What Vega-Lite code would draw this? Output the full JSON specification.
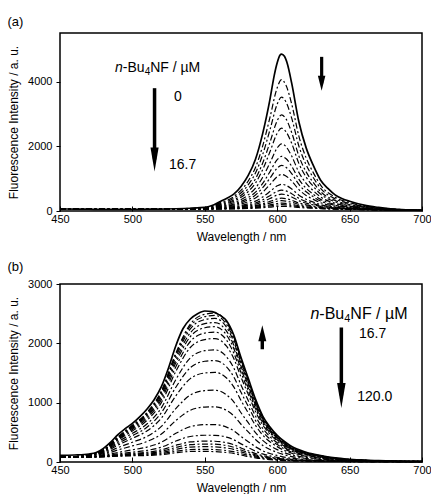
{
"$schema": "https://vega.github.io/schema/vega-lite/v6.json",
"padding": {"left": 6, "top": 15, "right": 0, "bottom": 0},
"background": "white",
"spacing": 17,
"datasets": {
"a": [
{"c":0,"x":450,"y":65},{"c":0,"x":460,"y":60},{"c":0,"x":470,"y":55},{"c":0,"x":480,"y":50},{"c":0,"x":490,"y":50},{"c":0,"x":500,"y":50},{"c":0,"x":510,"y":55},{"c":0,"x":520,"y":60},{"c":0,"x":530,"y":70},{"c":0,"x":540,"y":85},{"c":0,"x":550,"y":110},{"c":0,"x":555,"y":170},{"c":0,"x":560,"y":280},{"c":0,"x":565,"y":390},{"c":0,"x":570,"y":520},{"c":0,"x":575,"y":760},{"c":0,"x":580,"y":1100},{"c":0,"x":585,"y":1600},{"c":0,"x":590,"y":2400},{"c":0,"x":595,"y":3450},{"c":0,"x":598,"y":4200},{"c":0,"x":600,"y":4580},{"c":0,"x":602,"y":4820},{"c":0,"x":603,"y":4850},{"c":0,"x":605,"y":4780},{"c":0,"x":607,"y":4550},{"c":0,"x":610,"y":3950},{"c":0,"x":615,"y":2750},{"c":0,"x":620,"y":1950},{"c":0,"x":625,"y":1400},{"c":0,"x":630,"y":950},{"c":0,"x":635,"y":700},{"c":0,"x":640,"y":500},{"c":0,"x":645,"y":380},{"c":0,"x":650,"y":300},{"c":0,"x":660,"y":180},{"c":0,"x":670,"y":110},{"c":0,"x":680,"y":60},{"c":0,"x":690,"y":35},{"c":0,"x":700,"y":20},
{"c":1,"x":450,"y":50},{"c":1,"x":500,"y":50},{"c":1,"x":540,"y":81},{"c":1,"x":550,"y":102},{"c":1,"x":560,"y":244},{"c":1,"x":570,"y":444},{"c":1,"x":580,"y":928},{"c":1,"x":585,"y":1346},{"c":1,"x":590,"y":2014},{"c":1,"x":595,"y":2891},{"c":1,"x":600,"y":3809},{"c":1,"x":603,"y":4060},{"c":1,"x":606,"y":3893},{"c":1,"x":610,"y":3308},{"c":1,"x":615,"y":2306},{"c":1,"x":620,"y":1638},{"c":1,"x":625,"y":1179},{"c":1,"x":630,"y":802},{"c":1,"x":640,"y":426},{"c":1,"x":650,"y":258},{"c":1,"x":660,"y":157},{"c":1,"x":675,"y":80},{"c":1,"x":700,"y":19},
{"c":2,"x":450,"y":50},{"c":2,"x":500,"y":50},{"c":2,"x":540,"y":78},{"c":2,"x":550,"y":96},{"c":2,"x":560,"y":219},{"c":2,"x":570,"y":392},{"c":2,"x":580,"y":811},{"c":2,"x":585,"y":1172},{"c":2,"x":590,"y":1749},{"c":2,"x":595,"y":2508},{"c":2,"x":600,"y":3302},{"c":2,"x":603,"y":3518},{"c":2,"x":606,"y":3374},{"c":2,"x":610,"y":2869},{"c":2,"x":615,"y":2002},{"c":2,"x":620,"y":1425},{"c":2,"x":625,"y":1027},{"c":2,"x":630,"y":701},{"c":2,"x":640,"y":375},{"c":2,"x":650,"y":229},{"c":2,"x":660,"y":141},{"c":2,"x":675,"y":73},{"c":2,"x":700,"y":19},
{"c":3,"x":450,"y":50},{"c":3,"x":500,"y":50},{"c":3,"x":540,"y":75},{"c":3,"x":550,"y":90},{"c":3,"x":560,"y":194},{"c":3,"x":570,"y":340},{"c":3,"x":580,"y":692},{"c":3,"x":585,"y":996},{"c":3,"x":590,"y":1483},{"c":3,"x":595,"y":2121},{"c":3,"x":600,"y":2790},{"c":3,"x":603,"y":2972},{"c":3,"x":606,"y":2851},{"c":3,"x":610,"y":2425},{"c":3,"x":615,"y":1696},{"c":3,"x":620,"y":1209},{"c":3,"x":625,"y":875},{"c":3,"x":630,"y":599},{"c":3,"x":640,"y":324},{"c":3,"x":650,"y":200},{"c":3,"x":660,"y":125},{"c":3,"x":675,"y":66},{"c":3,"x":700,"y":18},
{"c":4,"x":450,"y":50},{"c":4,"x":500,"y":50},{"c":4,"x":540,"y":73},{"c":4,"x":550,"y":86},{"c":4,"x":560,"y":175},{"c":4,"x":570,"y":300},{"c":4,"x":580,"y":603},{"c":4,"x":585,"y":864},{"c":4,"x":590,"y":1281},{"c":4,"x":595,"y":1830},{"c":4,"x":600,"y":2404},{"c":4,"x":603,"y":2560},{"c":4,"x":606,"y":2456},{"c":4,"x":610,"y":2091},{"c":4,"x":615,"y":1464},{"c":4,"x":620,"y":1047},{"c":4,"x":625,"y":759},{"c":4,"x":630,"y":522},{"c":4,"x":640,"y":285},{"c":4,"x":650,"y":178},{"c":4,"x":660,"y":113},{"c":4,"x":675,"y":61},{"c":4,"x":700,"y":18},
{"c":5,"x":450,"y":50},{"c":5,"x":500,"y":50},{"c":5,"x":540,"y":71},{"c":5,"x":550,"y":81},{"c":5,"x":560,"y":153},{"c":5,"x":570,"y":254},{"c":5,"x":580,"y":498},{"c":5,"x":585,"y":708},{"c":5,"x":590,"y":1045},{"c":5,"x":595,"y":1487},{"c":5,"x":600,"y":1950},{"c":5,"x":603,"y":2077},{"c":5,"x":606,"y":1992},{"c":5,"x":610,"y":1698},{"c":5,"x":615,"y":1192},{"c":5,"x":620,"y":856},{"c":5,"x":625,"y":624},{"c":5,"x":630,"y":432},{"c":5,"x":640,"y":239},{"c":5,"x":650,"y":152},{"c":5,"x":660,"y":99},{"c":5,"x":675,"y":55},{"c":5,"x":700,"y":17},
{"c":6,"x":450,"y":50},{"c":6,"x":500,"y":50},{"c":6,"x":540,"y":68},{"c":6,"x":550,"y":77},{"c":6,"x":560,"y":135},{"c":6,"x":570,"y":216},{"c":6,"x":580,"y":414},{"c":6,"x":585,"y":584},{"c":6,"x":590,"y":856},{"c":6,"x":595,"y":1213},{"c":6,"x":600,"y":1587},{"c":6,"x":603,"y":1689},{"c":6,"x":606,"y":1621},{"c":6,"x":610,"y":1383},{"c":6,"x":615,"y":975},{"c":6,"x":620,"y":703},{"c":6,"x":625,"y":516},{"c":6,"x":630,"y":359},{"c":6,"x":640,"y":203},{"c":6,"x":650,"y":132},{"c":6,"x":660,"y":88},{"c":6,"x":675,"y":50},{"c":6,"x":700,"y":17},
{"c":7,"x":450,"y":50},{"c":7,"x":500,"y":50},{"c":7,"x":540,"y":67},{"c":7,"x":550,"y":74},{"c":7,"x":560,"y":122},{"c":7,"x":570,"y":190},{"c":7,"x":580,"y":353},{"c":7,"x":585,"y":494},{"c":7,"x":590,"y":720},{"c":7,"x":595,"y":1016},{"c":7,"x":600,"y":1326},{"c":7,"x":603,"y":1411},{"c":7,"x":606,"y":1354},{"c":7,"x":610,"y":1157},{"c":7,"x":615,"y":819},{"c":7,"x":620,"y":593},{"c":7,"x":625,"y":438},{"c":7,"x":630,"y":307},{"c":7,"x":640,"y":177},{"c":7,"x":650,"y":117},{"c":7,"x":660,"y":79},{"c":7,"x":675,"y":47},{"c":7,"x":700,"y":16},
{"c":8,"x":450,"y":50},{"c":8,"x":500,"y":50},{"c":8,"x":540,"y":66},{"c":8,"x":550,"y":71},{"c":8,"x":560,"y":109},{"c":8,"x":570,"y":163},{"c":8,"x":580,"y":292},{"c":8,"x":585,"y":403},{"c":8,"x":590,"y":582},{"c":8,"x":595,"y":816},{"c":8,"x":600,"y":1061},{"c":8,"x":603,"y":1128},{"c":8,"x":606,"y":1084},{"c":8,"x":610,"y":927},{"c":8,"x":615,"y":660},{"c":8,"x":620,"y":481},{"c":8,"x":625,"y":359},{"c":8,"x":630,"y":255},{"c":8,"x":640,"y":150},{"c":8,"x":650,"y":102},{"c":8,"x":660,"y":71},{"c":8,"x":675,"y":43},{"c":8,"x":700,"y":16},
{"c":9,"x":450,"y":50},{"c":9,"x":500,"y":50},{"c":9,"x":540,"y":64},{"c":9,"x":550,"y":68},{"c":9,"x":560,"y":95},{"c":9,"x":570,"y":134},{"c":9,"x":580,"y":226},{"c":9,"x":585,"y":306},{"c":9,"x":590,"y":434},{"c":9,"x":595,"y":602},{"c":9,"x":600,"y":778},{"c":9,"x":603,"y":826},{"c":9,"x":606,"y":794},{"c":9,"x":610,"y":682},{"c":9,"x":615,"y":490},{"c":9,"x":620,"y":362},{"c":9,"x":625,"y":274},{"c":9,"x":630,"y":198},{"c":9,"x":640,"y":122},{"c":9,"x":650,"y":86},{"c":9,"x":660,"y":62},{"c":9,"x":675,"y":40},{"c":9,"x":700,"y":16},
{"c":10,"x":450,"y":50},{"c":10,"x":500,"y":50},{"c":10,"x":540,"y":63},{"c":10,"x":550,"y":66},{"c":10,"x":560,"y":87},{"c":10,"x":570,"y":116},{"c":10,"x":580,"y":187},{"c":10,"x":585,"y":248},{"c":10,"x":590,"y":345},{"c":10,"x":595,"y":474},{"c":10,"x":600,"y":608},{"c":10,"x":603,"y":644},{"c":10,"x":606,"y":620},{"c":10,"x":610,"y":535},{"c":10,"x":615,"y":388},{"c":10,"x":620,"y":291},{"c":10,"x":625,"y":223},{"c":10,"x":630,"y":164},{"c":10,"x":640,"y":105},{"c":10,"x":650,"y":76},{"c":10,"x":660,"y":57},{"c":10,"x":675,"y":37},{"c":10,"x":700,"y":15},
{"c":11,"x":450,"y":50},{"c":11,"x":500,"y":50},{"c":11,"x":540,"y":62},{"c":11,"x":550,"y":65},{"c":11,"x":560,"y":81},{"c":11,"x":570,"y":104},{"c":11,"x":580,"y":160},{"c":11,"x":585,"y":208},{"c":11,"x":590,"y":285},{"c":11,"x":595,"y":385},{"c":11,"x":600,"y":491},{"c":11,"x":603,"y":520},{"c":11,"x":606,"y":501},{"c":11,"x":610,"y":433},{"c":11,"x":615,"y":318},{"c":11,"x":620,"y":241},{"c":11,"x":625,"y":189},{"c":11,"x":630,"y":141},{"c":11,"x":640,"y":93},{"c":11,"x":650,"y":69},{"c":11,"x":660,"y":53},{"c":11,"x":675,"y":36},{"c":11,"x":700,"y":15},
{"c":12,"x":450,"y":50},{"c":12,"x":500,"y":50},{"c":12,"x":540,"y":62},{"c":12,"x":550,"y":64},{"c":12,"x":560,"y":75},{"c":12,"x":570,"y":92},{"c":12,"x":580,"y":133},{"c":12,"x":585,"y":168},{"c":12,"x":590,"y":224},{"c":12,"x":595,"y":297},{"c":12,"x":600,"y":374},{"c":12,"x":603,"y":395},{"c":12,"x":606,"y":381},{"c":12,"x":610,"y":332},{"c":12,"x":615,"y":248},{"c":12,"x":620,"y":192},{"c":12,"x":625,"y":154},{"c":12,"x":630,"y":118},{"c":12,"x":640,"y":82},{"c":12,"x":650,"y":63},{"c":12,"x":660,"y":50},{"c":12,"x":675,"y":34},{"c":12,"x":700,"y":15},
{"c":13,"x":450,"y":50},{"c":13,"x":500,"y":50},{"c":13,"x":540,"y":61},{"c":13,"x":550,"y":63},{"c":13,"x":560,"y":72},{"c":13,"x":570,"y":85},{"c":13,"x":580,"y":116},{"c":13,"x":585,"y":143},{"c":13,"x":590,"y":186},{"c":13,"x":595,"y":243},{"c":13,"x":600,"y":302},{"c":13,"x":603,"y":319},{"c":13,"x":606,"y":308},{"c":13,"x":610,"y":270},{"c":13,"x":615,"y":205},{"c":13,"x":620,"y":162},{"c":13,"x":625,"y":132},{"c":13,"x":630,"y":103},{"c":13,"x":640,"y":74},{"c":13,"x":650,"y":59},{"c":13,"x":660,"y":48},{"c":13,"x":675,"y":33},{"c":13,"x":700,"y":15},
{"c":14,"x":450,"y":50},{"c":14,"x":500,"y":50},{"c":14,"x":540,"y":61},{"c":14,"x":550,"y":62},{"c":14,"x":560,"y":68},{"c":14,"x":570,"y":77},{"c":14,"x":580,"y":100},{"c":14,"x":585,"y":119},{"c":14,"x":590,"y":149},{"c":14,"x":595,"y":189},{"c":14,"x":600,"y":231},{"c":14,"x":603,"y":242},{"c":14,"x":606,"y":234},{"c":14,"x":610,"y":208},{"c":14,"x":615,"y":162},{"c":14,"x":620,"y":132},{"c":14,"x":625,"y":111},{"c":14,"x":630,"y":89},{"c":14,"x":640,"y":67},{"c":14,"x":650,"y":55},{"c":14,"x":660,"y":45},{"c":14,"x":675,"y":32},{"c":14,"x":700,"y":15},
{"c":15,"x":450,"y":50},{"c":15,"x":500,"y":50},{"c":15,"x":540,"y":61},{"c":15,"x":550,"y":61},{"c":15,"x":560,"y":66},{"c":15,"x":570,"y":73},{"c":15,"x":580,"y":89},{"c":15,"x":585,"y":103},{"c":15,"x":590,"y":126},{"c":15,"x":595,"y":155},{"c":15,"x":600,"y":186},{"c":15,"x":603,"y":194},{"c":15,"x":606,"y":189},{"c":15,"x":610,"y":169},{"c":15,"x":615,"y":135},{"c":15,"x":620,"y":113},{"c":15,"x":625,"y":98},{"c":15,"x":630,"y":80},{"c":15,"x":640,"y":63},{"c":15,"x":650,"y":52},{"c":15,"x":660,"y":44},{"c":15,"x":675,"y":32},{"c":15,"x":700,"y":15},
{"c":16,"x":450,"y":50},{"c":16,"x":500,"y":50},{"c":16,"x":540,"y":60},{"c":16,"x":550,"y":61},{"c":16,"x":560,"y":64},{"c":16,"x":570,"y":68},{"c":16,"x":580,"y":79},{"c":16,"x":585,"y":88},{"c":16,"x":590,"y":102},{"c":16,"x":595,"y":121},{"c":16,"x":600,"y":141},{"c":16,"x":603,"y":146},{"c":16,"x":606,"y":143},{"c":16,"x":610,"y":130},{"c":16,"x":615,"y":108},{"c":16,"x":620,"y":94},{"c":16,"x":625,"y":84},{"c":16,"x":630,"y":71},{"c":16,"x":640,"y":58},{"c":16,"x":650,"y":50},{"c":16,"x":660,"y":43},{"c":16,"x":675,"y":31},{"c":16,"x":700,"y":15}
],
"b": [
{"c":0,"x":450,"y":110},{"c":0,"x":460,"y":118},{"c":0,"x":470,"y":135},{"c":0,"x":475,"y":160},{"c":0,"x":480,"y":230},{"c":0,"x":485,"y":335},{"c":0,"x":490,"y":460},{"c":0,"x":495,"y":560},{"c":0,"x":500,"y":650},{"c":0,"x":505,"y":760},{"c":0,"x":510,"y":890},{"c":0,"x":515,"y":1050},{"c":0,"x":520,"y":1270},{"c":0,"x":525,"y":1590},{"c":0,"x":530,"y":1960},{"c":0,"x":535,"y":2250},{"c":0,"x":540,"y":2410},{"c":0,"x":545,"y":2500},{"c":0,"x":550,"y":2545},{"c":0,"x":555,"y":2535},{"c":0,"x":560,"y":2480},{"c":0,"x":565,"y":2380},{"c":0,"x":570,"y":2140},{"c":0,"x":575,"y":1760},{"c":0,"x":580,"y":1410},{"c":0,"x":585,"y":1060},{"c":0,"x":590,"y":775},{"c":0,"x":595,"y":590},{"c":0,"x":600,"y":450},{"c":0,"x":605,"y":345},{"c":0,"x":610,"y":260},{"c":0,"x":620,"y":165},{"c":0,"x":630,"y":110},{"c":0,"x":640,"y":68},{"c":0,"x":650,"y":45},{"c":0,"x":660,"y":30},{"c":0,"x":670,"y":22},{"c":0,"x":680,"y":15},{"c":0,"x":700,"y":10},
{"c":1,"x":450,"y":80},{"c":1,"x":470,"y":117},{"c":1,"x":480,"y":205},{"c":1,"x":490,"y":424},{"c":1,"x":500,"y":619},{"c":1,"x":510,"y":833},{"c":1,"x":520,"y":1198},{"c":1,"x":530,"y":1836},{"c":1,"x":540,"y":2325},{"c":1,"x":550,"y":2490},{"c":1,"x":557,"y":2510},{"c":1,"x":565,"y":2355},{"c":1,"x":570,"y":2106},{"c":1,"x":575,"y":1727},{"c":1,"x":580,"y":1377},{"c":1,"x":585,"y":1028},{"c":1,"x":590,"y":754},{"c":1,"x":595,"y":566},{"c":1,"x":600,"y":429},{"c":1,"x":610,"y":242},{"c":1,"x":620,"y":155},{"c":1,"x":630,"y":105},{"c":1,"x":640,"y":65},{"c":1,"x":650,"y":42},{"c":1,"x":670,"y":20},{"c":1,"x":700,"y":10},
{"c":2,"x":450,"y":80},{"c":2,"x":470,"y":117},{"c":2,"x":480,"y":203},{"c":2,"x":490,"y":419},{"c":2,"x":500,"y":610},{"c":2,"x":510,"y":821},{"c":2,"x":520,"y":1179},{"c":2,"x":530,"y":1808},{"c":2,"x":540,"y":2289},{"c":2,"x":550,"y":2450},{"c":2,"x":557,"y":2470},{"c":2,"x":565,"y":2318},{"c":2,"x":570,"y":2072},{"c":2,"x":575,"y":1699},{"c":2,"x":580,"y":1355},{"c":2,"x":585,"y":1012},{"c":2,"x":590,"y":742},{"c":2,"x":595,"y":557},{"c":2,"x":600,"y":422},{"c":2,"x":610,"y":238},{"c":2,"x":620,"y":152},{"c":2,"x":630,"y":103},{"c":2,"x":640,"y":64},{"c":2,"x":650,"y":42},{"c":2,"x":670,"y":20},{"c":2,"x":700,"y":10},
{"c":3,"x":450,"y":80},{"c":3,"x":470,"y":116},{"c":3,"x":480,"y":200},{"c":3,"x":490,"y":412},{"c":3,"x":500,"y":599},{"c":3,"x":510,"y":806},{"c":3,"x":520,"y":1156},{"c":3,"x":530,"y":1772},{"c":3,"x":540,"y":2243},{"c":3,"x":550,"y":2401},{"c":3,"x":557,"y":2420},{"c":3,"x":565,"y":2271},{"c":3,"x":570,"y":2030},{"c":3,"x":575,"y":1664},{"c":3,"x":580,"y":1328},{"c":3,"x":585,"y":991},{"c":3,"x":590,"y":727},{"c":3,"x":595,"y":546},{"c":3,"x":600,"y":414},{"c":3,"x":610,"y":233},{"c":3,"x":620,"y":149},{"c":3,"x":630,"y":101},{"c":3,"x":640,"y":63},{"c":3,"x":650,"y":41},{"c":3,"x":670,"y":19},{"c":3,"x":700,"y":10},
{"c":4,"x":450,"y":80},{"c":4,"x":470,"y":115},{"c":4,"x":480,"y":197},{"c":4,"x":490,"y":402},{"c":4,"x":500,"y":584},{"c":4,"x":510,"y":784},{"c":4,"x":520,"y":1124},{"c":4,"x":530,"y":1721},{"c":4,"x":540,"y":2178},{"c":4,"x":550,"y":2332},{"c":4,"x":557,"y":2350},{"c":4,"x":565,"y":2205},{"c":4,"x":570,"y":1971},{"c":4,"x":575,"y":1616},{"c":4,"x":580,"y":1289},{"c":4,"x":585,"y":962},{"c":4,"x":590,"y":706},{"c":4,"x":595,"y":530},{"c":4,"x":600,"y":402},{"c":4,"x":610,"y":227},{"c":4,"x":620,"y":145},{"c":4,"x":630,"y":98},{"c":4,"x":640,"y":61},{"c":4,"x":650,"y":40},{"c":4,"x":670,"y":19},{"c":4,"x":700,"y":10},
{"c":5,"x":450,"y":80},{"c":5,"x":470,"y":114},{"c":5,"x":480,"y":193},{"c":5,"x":490,"y":392},{"c":5,"x":500,"y":568},{"c":5,"x":510,"y":762},{"c":5,"x":520,"y":1092},{"c":5,"x":530,"y":1671},{"c":5,"x":540,"y":2114},{"c":5,"x":550,"y":2262},{"c":5,"x":557,"y":2280},{"c":5,"x":565,"y":2139},{"c":5,"x":570,"y":1913},{"c":5,"x":575,"y":1568},{"c":5,"x":580,"y":1251},{"c":5,"x":585,"y":934},{"c":5,"x":590,"y":685},{"c":5,"x":595,"y":515},{"c":5,"x":600,"y":390},{"c":5,"x":610,"y":220},{"c":5,"x":620,"y":141},{"c":5,"x":630,"y":96},{"c":5,"x":640,"y":59},{"c":5,"x":650,"y":39},{"c":5,"x":670,"y":19},{"c":5,"x":700,"y":10},
{"c":6,"x":450,"y":80},{"c":6,"x":470,"y":113},{"c":6,"x":480,"y":189},{"c":6,"x":490,"y":380},{"c":6,"x":500,"y":549},{"c":6,"x":510,"y":734},{"c":6,"x":520,"y":1051},{"c":6,"x":530,"y":1606},{"c":6,"x":540,"y":2031},{"c":6,"x":550,"y":2173},{"c":6,"x":557,"y":2190},{"c":6,"x":565,"y":2055},{"c":6,"x":570,"y":1837},{"c":6,"x":575,"y":1506},{"c":6,"x":580,"y":1201},{"c":6,"x":585,"y":897},{"c":6,"x":590,"y":658},{"c":6,"x":595,"y":494},{"c":6,"x":600,"y":375},{"c":6,"x":610,"y":212},{"c":6,"x":620,"y":136},{"c":6,"x":630,"y":92},{"c":6,"x":640,"y":57},{"c":6,"x":650,"y":38},{"c":6,"x":670,"y":18},{"c":6,"x":700,"y":9},
{"c":7,"x":450,"y":80},{"c":7,"x":470,"y":111},{"c":7,"x":480,"y":183},{"c":7,"x":490,"y":364},{"c":7,"x":500,"y":524},{"c":7,"x":510,"y":700},{"c":7,"x":520,"y":1000},{"c":7,"x":530,"y":1527},{"c":7,"x":540,"y":1930},{"c":7,"x":550,"y":2064},{"c":7,"x":557,"y":2080},{"c":7,"x":565,"y":1951},{"c":7,"x":570,"y":1745},{"c":7,"x":575,"y":1430},{"c":7,"x":580,"y":1141},{"c":7,"x":585,"y":852},{"c":7,"x":590,"y":625},{"c":7,"x":595,"y":470},{"c":7,"x":600,"y":356},{"c":7,"x":610,"y":201},{"c":7,"x":620,"y":129},{"c":7,"x":630,"y":88},{"c":7,"x":640,"y":55},{"c":7,"x":650,"y":36},{"c":7,"x":670,"y":17},{"c":7,"x":700,"y":9},
{"c":8,"x":450,"y":80},{"c":8,"x":470,"y":108},{"c":8,"x":480,"y":174},{"c":8,"x":490,"y":338},{"c":8,"x":500,"y":483},{"c":8,"x":510,"y":641},{"c":8,"x":520,"y":913},{"c":8,"x":530,"y":1390},{"c":8,"x":540,"y":1755},{"c":8,"x":550,"y":1876},{"c":8,"x":557,"y":1890},{"c":8,"x":565,"y":1773},{"c":8,"x":570,"y":1585},{"c":8,"x":575,"y":1299},{"c":8,"x":580,"y":1036},{"c":8,"x":585,"y":774},{"c":8,"x":590,"y":568},{"c":8,"x":595,"y":427},{"c":8,"x":600,"y":324},{"c":8,"x":610,"y":183},{"c":8,"x":620,"y":118},{"c":8,"x":630,"y":80},{"c":8,"x":640,"y":50},{"c":8,"x":650,"y":33},{"c":8,"x":670,"y":16},{"c":8,"x":700,"y":9},
{"c":9,"x":450,"y":80},{"c":9,"x":470,"y":105},{"c":9,"x":480,"y":165},{"c":9,"x":490,"y":312},{"c":9,"x":500,"y":443},{"c":9,"x":510,"y":585},{"c":9,"x":520,"y":830},{"c":9,"x":530,"y":1260},{"c":9,"x":540,"y":1589},{"c":9,"x":550,"y":1698},{"c":9,"x":557,"y":1710},{"c":9,"x":565,"y":1603},{"c":9,"x":570,"y":1434},{"c":9,"x":575,"y":1175},{"c":9,"x":580,"y":937},{"c":9,"x":585,"y":700},{"c":9,"x":590,"y":514},{"c":9,"x":595,"y":386},{"c":9,"x":600,"y":293},{"c":9,"x":610,"y":166},{"c":9,"x":620,"y":107},{"c":9,"x":630,"y":73},{"c":9,"x":640,"y":46},{"c":9,"x":650,"y":30},{"c":9,"x":670,"y":15},{"c":9,"x":700,"y":8},
{"c":10,"x":450,"y":80},{"c":10,"x":470,"y":102},{"c":10,"x":480,"y":155},{"c":10,"x":490,"y":284},{"c":10,"x":500,"y":399},{"c":10,"x":510,"y":523},{"c":10,"x":520,"y":738},{"c":10,"x":530,"y":1116},{"c":10,"x":540,"y":1405},{"c":10,"x":550,"y":1500},{"c":10,"x":557,"y":1510},{"c":10,"x":565,"y":1415},{"c":10,"x":570,"y":1266},{"c":10,"x":575,"y":1037},{"c":10,"x":580,"y":827},{"c":10,"x":585,"y":618},{"c":10,"x":590,"y":454},{"c":10,"x":595,"y":341},{"c":10,"x":600,"y":259},{"c":10,"x":610,"y":147},{"c":10,"x":620,"y":95},{"c":10,"x":630,"y":65},{"c":10,"x":640,"y":41},{"c":10,"x":650,"y":27},{"c":10,"x":670,"y":14},{"c":10,"x":700,"y":8},
{"c":11,"x":450,"y":80},{"c":11,"x":470,"y":98},{"c":11,"x":480,"y":140},{"c":11,"x":490,"y":242},{"c":11,"x":500,"y":333},{"c":11,"x":510,"y":430},{"c":11,"x":520,"y":600},{"c":11,"x":530,"y":900},{"c":11,"x":540,"y":1129},{"c":11,"x":550,"y":1203},{"c":11,"x":557,"y":1210},{"c":11,"x":565,"y":1133},{"c":11,"x":570,"y":1014},{"c":11,"x":575,"y":830},{"c":11,"x":580,"y":662},{"c":11,"x":585,"y":495},{"c":11,"x":590,"y":364},{"c":11,"x":595,"y":274},{"c":11,"x":600,"y":208},{"c":11,"x":610,"y":119},{"c":11,"x":620,"y":77},{"c":11,"x":630,"y":53},{"c":11,"x":640,"y":34},{"c":11,"x":650,"y":23},{"c":11,"x":670,"y":12},{"c":11,"x":700,"y":7},
{"c":12,"x":450,"y":80},{"c":12,"x":470,"y":94},{"c":12,"x":480,"y":126},{"c":12,"x":490,"y":203},{"c":12,"x":500,"y":271},{"c":12,"x":510,"y":344},{"c":12,"x":520,"y":471},{"c":12,"x":530,"y":699},{"c":12,"x":540,"y":872},{"c":12,"x":550,"y":926},{"c":12,"x":557,"y":930},{"c":12,"x":565,"y":870},{"c":12,"x":570,"y":779},{"c":12,"x":575,"y":636},{"c":12,"x":580,"y":508},{"c":12,"x":585,"y":380},{"c":12,"x":590,"y":280},{"c":12,"x":595,"y":211},{"c":12,"x":600,"y":161},{"c":12,"x":610,"y":92},{"c":12,"x":620,"y":60},{"c":12,"x":630,"y":42},{"c":12,"x":640,"y":27},{"c":12,"x":650,"y":19},{"c":12,"x":670,"y":10},{"c":12,"x":700,"y":7},
{"c":13,"x":450,"y":80},{"c":13,"x":470,"y":89},{"c":13,"x":480,"y":111},{"c":13,"x":490,"y":161},{"c":13,"x":500,"y":205},{"c":13,"x":510,"y":251},{"c":13,"x":520,"y":333},{"c":13,"x":530,"y":483},{"c":13,"x":540,"y":596},{"c":13,"x":550,"y":629},{"c":13,"x":557,"y":630},{"c":13,"x":565,"y":588},{"c":13,"x":570,"y":527},{"c":13,"x":575,"y":429},{"c":13,"x":580,"y":343},{"c":13,"x":585,"y":257},{"c":13,"x":590,"y":190},{"c":13,"x":595,"y":143},{"c":13,"x":600,"y":110},{"c":13,"x":610,"y":63},{"c":13,"x":620,"y":42},{"c":13,"x":630,"y":30},{"c":13,"x":640,"y":20},{"c":13,"x":650,"y":14},{"c":13,"x":670,"y":9},{"c":13,"x":700,"y":6},
{"c":14,"x":450,"y":80},{"c":14,"x":470,"y":87},{"c":14,"x":480,"y":102},{"c":14,"x":490,"y":136},{"c":14,"x":500,"y":166},{"c":14,"x":510,"y":195},{"c":14,"x":520,"y":250},{"c":14,"x":530,"y":353},{"c":14,"x":540,"y":430},{"c":14,"x":550,"y":451},{"c":14,"x":557,"y":450},{"c":14,"x":565,"y":419},{"c":14,"x":570,"y":375},{"c":14,"x":575,"y":305},{"c":14,"x":580,"y":244},{"c":14,"x":585,"y":183},{"c":14,"x":590,"y":136},{"c":14,"x":595,"y":103},{"c":14,"x":600,"y":79},{"c":14,"x":610,"y":46},{"c":14,"x":620,"y":31},{"c":14,"x":630,"y":22},{"c":14,"x":640,"y":15},{"c":14,"x":650,"y":12},{"c":14,"x":670,"y":8},{"c":14,"x":700,"y":6},
{"c":15,"x":450,"y":80},{"c":15,"x":470,"y":85},{"c":15,"x":480,"y":97},{"c":15,"x":490,"y":122},{"c":15,"x":500,"y":144},{"c":15,"x":510,"y":164},{"c":15,"x":520,"y":204},{"c":15,"x":530,"y":281},{"c":15,"x":540,"y":338},{"c":15,"x":550,"y":352},{"c":15,"x":557,"y":350},{"c":15,"x":565,"y":325},{"c":15,"x":570,"y":291},{"c":15,"x":575,"y":236},{"c":15,"x":580,"y":189},{"c":15,"x":585,"y":142},{"c":15,"x":590,"y":106},{"c":15,"x":595,"y":80},{"c":15,"x":600,"y":62},{"c":15,"x":610,"y":37},{"c":15,"x":620,"y":25},{"c":15,"x":630,"y":18},{"c":15,"x":640,"y":13},{"c":15,"x":650,"y":10},{"c":15,"x":670,"y":7},{"c":15,"x":700,"y":6},
{"c":16,"x":450,"y":80},{"c":16,"x":470,"y":84},{"c":16,"x":480,"y":94},{"c":16,"x":490,"y":115},{"c":16,"x":500,"y":133},{"c":16,"x":510,"y":148},{"c":16,"x":520,"y":181},{"c":16,"x":530,"y":245},{"c":16,"x":540,"y":292},{"c":16,"x":550,"y":302},{"c":16,"x":557,"y":300},{"c":16,"x":565,"y":278},{"c":16,"x":570,"y":249},{"c":16,"x":575,"y":202},{"c":16,"x":580,"y":162},{"c":16,"x":585,"y":122},{"c":16,"x":590,"y":91},{"c":16,"x":595,"y":69},{"c":16,"x":600,"y":53},{"c":16,"x":610,"y":32},{"c":16,"x":620,"y":22},{"c":16,"x":630,"y":16},{"c":16,"x":640,"y":12},{"c":16,"x":650,"y":9},{"c":16,"x":670,"y":7},{"c":16,"x":700,"y":6},
{"c":17,"x":450,"y":80},{"c":17,"x":470,"y":84},{"c":17,"x":480,"y":92},{"c":17,"x":490,"y":109},{"c":17,"x":500,"y":123},{"c":17,"x":510,"y":134},{"c":17,"x":520,"y":160},{"c":17,"x":530,"y":213},{"c":17,"x":540,"y":251},{"c":17,"x":550,"y":258},{"c":17,"x":557,"y":255},{"c":17,"x":565,"y":236},{"c":17,"x":570,"y":212},{"c":17,"x":575,"y":171},{"c":17,"x":580,"y":137},{"c":17,"x":585,"y":103},{"c":17,"x":590,"y":77},{"c":17,"x":595,"y":59},{"c":17,"x":600,"y":46},{"c":17,"x":610,"y":28},{"c":17,"x":620,"y":19},{"c":17,"x":630,"y":15},{"c":17,"x":640,"y":11},{"c":17,"x":650,"y":9},{"c":17,"x":670,"y":6},{"c":17,"x":700,"y":5},
{"c":18,"x":450,"y":80},{"c":18,"x":470,"y":83},{"c":18,"x":480,"y":90},{"c":18,"x":490,"y":102},{"c":18,"x":500,"y":113},{"c":18,"x":510,"y":120},{"c":18,"x":520,"y":140},{"c":18,"x":530,"y":180},{"c":18,"x":540,"y":209},{"c":18,"x":550,"y":213},{"c":18,"x":557,"y":210},{"c":18,"x":565,"y":193},{"c":18,"x":570,"y":174},{"c":18,"x":575,"y":140},{"c":18,"x":580,"y":112},{"c":18,"x":585,"y":85},{"c":18,"x":590,"y":64},{"c":18,"x":595,"y":49},{"c":18,"x":600,"y":38},{"c":18,"x":610,"y":24},{"c":18,"x":620,"y":17},{"c":18,"x":630,"y":13},{"c":18,"x":640,"y":10},{"c":18,"x":650,"y":8},{"c":18,"x":670,"y":6},{"c":18,"x":700,"y":5},
{"c":19,"x":450,"y":80},{"c":19,"x":470,"y":82},{"c":19,"x":480,"y":88},{"c":19,"x":490,"y":97},{"c":19,"x":500,"y":105},{"c":19,"x":510,"y":110},{"c":19,"x":520,"y":124},{"c":19,"x":530,"y":155},{"c":19,"x":540,"y":177},{"c":19,"x":550,"y":178},{"c":19,"x":557,"y":175},{"c":19,"x":565,"y":160},{"c":19,"x":570,"y":144},{"c":19,"x":575,"y":115},{"c":19,"x":580,"y":93},{"c":19,"x":585,"y":71},{"c":19,"x":590,"y":53},{"c":19,"x":595,"y":41},{"c":19,"x":600,"y":32},{"c":19,"x":610,"y":20},{"c":19,"x":620,"y":15},{"c":19,"x":630,"y":11},{"c":19,"x":640,"y":9},{"c":19,"x":650,"y":7},{"c":19,"x":670,"y":6},{"c":19,"x":700,"y":5}
],
"ann": [
{"p":"a","k":"conc","x":515.3,"y":1593,"y2":3795},
{"p":"a","k":"down","x":630.7,"y":3944,"y2":4763},
{"p":"b","k":"conc","x":644.3,"y":1122,"y2":2267},
{"p":"b","k":"up","x":589.7,"y":2170,"y2":1900},
{"p":"a","k":"it","x":493.4,"y":4432,"t":"n"},
{"p":"a","k":"hdr","x":493.4,"y":4432,"t":"-Bu"},
{"p":"a","k":"sub","x":508.45,"y":4432,"t":"4"},
{"p":"a","k":"hdr","x":512.3,"y":4432,"t":"NF / µM"},
{"p":"a","k":"num","x":528.7,"y":3535,"t":"0"},
{"p":"a","k":"num","x":525.3,"y":1423,"t":"16.7"},
{"p":"b","k":"it","x":629.1,"y":2497,"t":"n"},
{"p":"b","k":"hdr","x":629.1,"y":2497,"t":"-Bu"},
{"p":"b","k":"sub","x":646.3,"y":2497,"t":"4"},
{"p":"b","k":"hdr","x":650.5,"y":2497,"t":"NF / µM"},
{"p":"b","k":"num","x":656.5,"y":2154,"t":"16.7"},
{"p":"b","k":"num","x":655.3,"y":1097,"t":"120.0"}
]
},
"vconcat": [
{
"width": 362, "height": 178,
"title": {"text": "(a)"},
"encoding": {
"x": {"field": "x", "type": "quantitative", "scale": {"domain": [450, 700], "nice": false, "zero": false}, "axis": {"values": [450, 500, 550, 600, 650, 700], "title": "Wavelength / nm", "format": "d"}},
"y": {"field": "y", "type": "quantitative", "scale": {"domain": [0, 5500], "nice": false}, "axis": {"values": [0, 2000, 4000], "title": "Fluorescence Intensity / a. u.", "format": "d"}}
},
"layer": [
{"data": {"name": "a"}, "transform": [{"filter": "datum.c > 0"}], "mark": {"type": "line", "interpolate": "monotone", "color": "black", "strokeWidth": 1.2, "strokeDash": [6, 2.5, 2, 2.5]}, "encoding": {"detail": {"field": "c"}}},
{"data": {"name": "a"}, "transform": [{"filter": "datum.c == 0"}], "mark": {"type": "line", "interpolate": "monotone", "color": "black", "strokeWidth": 1.7}, "encoding": {}},
{"data": {"name": "ann"}, "transform": [{"filter": "datum.p == 'a' && datum.k == 'conc'"}], "mark": {"type": "rule", "color": "black", "strokeWidth": 3.5}, "encoding": {"y2": {"field": "y2"}}},
{"data": {"name": "ann"}, "transform": [{"filter": "datum.p == 'a' && datum.k == 'down'"}], "mark": {"type": "rule", "color": "black", "strokeWidth": 3.2}, "encoding": {"y2": {"field": "y2"}}},
{"data": {"name": "ann"}, "transform": [{"filter": "datum.p == 'a' && datum.k == 'conc'"}], "mark": {"type": "point", "shape": "M-0.34,-1L0.34,-1L0,1Z", "filled": true, "color": "black", "opacity": 1, "size": 576, "strokeWidth": 0}, "encoding": {}},
{"data": {"name": "ann"}, "transform": [{"filter": "datum.p == 'a' && datum.k == 'down'"}], "mark": {"type": "point", "shape": "M-0.5,-1L0.5,-1L0,1Z", "filled": true, "color": "black", "opacity": 1, "size": 225, "strokeWidth": 0}, "encoding": {}},
{"data": {"name": "ann"}, "transform": [{"filter": "datum.p == 'a' && datum.k == 'it'"}], "mark": {"type": "text", "align": "right", "baseline": "middle", "fontSize": 14, "fontStyle": "italic", "font": "Liberation Sans", "color": "black"}, "encoding": {"text": {"field": "t"}}},
{"data": {"name": "ann"}, "transform": [{"filter": "datum.p == 'a' && datum.k == 'sub'"}], "mark": {"type": "text", "align": "left", "baseline": "middle", "fontSize": 10, "dy": 4, "font": "Liberation Sans", "color": "black"}, "encoding": {"text": {"field": "t"}}},
{"data": {"name": "ann"}, "transform": [{"filter": "datum.p == 'a' && (datum.k == 'hdr' || datum.k == 'num')"}], "mark": {"type": "text", "align": "left", "baseline": "middle", "fontSize": 14, "font": "Liberation Sans", "color": "black"}, "encoding": {"text": {"field": "t"}}}
]
},
{
"width": 362, "height": 178,
"title": {"text": "(b)"},
"encoding": {
"x": {"field": "x", "type": "quantitative", "scale": {"domain": [450, 700], "nice": false, "zero": false}, "axis": {"values": [450, 500, 550, 600, 650, 700], "title": "Wavelength / nm", "format": "d"}},
"y": {"field": "y", "type": "quantitative", "scale": {"domain": [0, 3000], "nice": false}, "axis": {"values": [0, 1000, 2000, 3000], "title": "Fluorescence Intensity / a. u.", "format": "d"}}
},
"layer": [
{"data": {"name": "b"}, "transform": [{"filter": "datum.c > 0"}], "mark": {"type": "line", "interpolate": "monotone", "color": "black", "strokeWidth": 1.2, "strokeDash": [6, 2.5, 2, 2.5]}, "encoding": {"detail": {"field": "c"}}},
{"data": {"name": "b"}, "transform": [{"filter": "datum.c == 0"}], "mark": {"type": "line", "interpolate": "monotone", "color": "black", "strokeWidth": 1.7}, "encoding": {}},
{"data": {"name": "ann"}, "transform": [{"filter": "datum.p == 'b' && datum.k == 'conc'"}], "mark": {"type": "rule", "color": "black", "strokeWidth": 3.5}, "encoding": {"y2": {"field": "y2"}}},
{"data": {"name": "ann"}, "transform": [{"filter": "datum.p == 'b' && datum.k == 'up'"}], "mark": {"type": "rule", "color": "black", "strokeWidth": 3.4}, "encoding": {"y2": {"field": "y2"}}},
{"data": {"name": "ann"}, "transform": [{"filter": "datum.p == 'b' && datum.k == 'conc'"}], "mark": {"type": "point", "shape": "M-0.34,-1L0.34,-1L0,1Z", "filled": true, "color": "black", "opacity": 1, "size": 625, "strokeWidth": 0}, "encoding": {}},
{"data": {"name": "ann"}, "transform": [{"filter": "datum.p == 'b' && datum.k == 'up'"}], "mark": {"type": "point", "shape": "M-0.5,1L0.5,1L0,-1Z", "filled": true, "color": "black", "opacity": 1, "size": 256, "strokeWidth": 0}, "encoding": {}},
{"data": {"name": "ann"}, "transform": [{"filter": "datum.p == 'b' && datum.k == 'it'"}], "mark": {"type": "text", "align": "right", "baseline": "middle", "fontSize": 16, "fontStyle": "italic", "font": "Liberation Sans", "color": "black"}, "encoding": {"text": {"field": "t"}}},
{"data": {"name": "ann"}, "transform": [{"filter": "datum.p == 'b' && datum.k == 'sub'"}], "mark": {"type": "text", "align": "left", "baseline": "middle", "fontSize": 11, "dy": 5, "font": "Liberation Sans", "color": "black"}, "encoding": {"text": {"field": "t"}}},
{"data": {"name": "ann"}, "transform": [{"filter": "datum.p == 'b' && datum.k == 'hdr'"}], "mark": {"type": "text", "align": "left", "baseline": "middle", "fontSize": 16, "font": "Liberation Sans", "color": "black"}, "encoding": {"text": {"field": "t"}}},
{"data": {"name": "ann"}, "transform": [{"filter": "datum.p == 'b' && datum.k == 'num'"}], "mark": {"type": "text", "align": "left", "baseline": "middle", "fontSize": 14, "font": "Liberation Sans", "color": "black"}, "encoding": {"text": {"field": "t"}}}
]
}
],
"config": {
"font": "Liberation Sans",
"view": {"stroke": "black", "strokeWidth": 1.5},
"title": {"fontSize": 13, "fontWeight": "normal", "font": "Liberation Sans", "color": "black", "anchor": "start", "frame": "bounds", "offset": 4},
"axis": {"labelFont": "Liberation Sans", "labelFontSize": 11, "labelColor": "black", "titleFont": "Liberation Sans", "titleFontSize": 12, "titleFontWeight": "normal", "titleColor": "black", "grid": false, "domain": false, "tickColor": "black", "tickWidth": 1, "labelFlush": false, "labelOverlap": false},
"axisX": {"tickSize": -5, "labelPadding": 7, "titlePadding": 7},
"axisY": {"tickSize": 4, "labelPadding": 4, "titlePadding": 7}
}
}
